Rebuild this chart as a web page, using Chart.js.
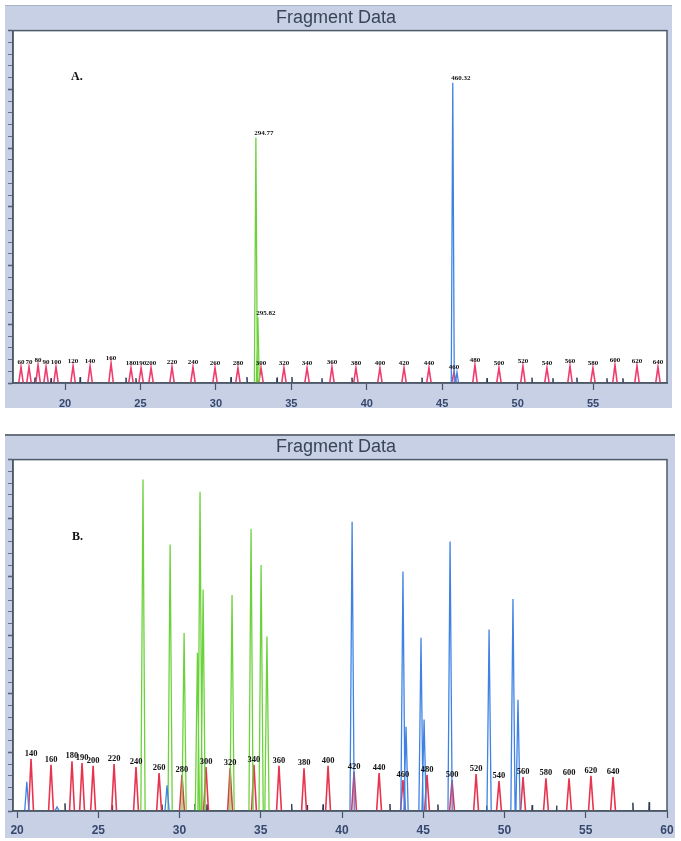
<!DOCTYPE html>
<html>
<head>
<meta charset="utf-8">
<script src="https://cdn.jsdelivr.net/npm/chart.js@4.4.0/dist/chart.umd.min.js"></script>
<style>
  body { margin: 0; background: #fff; width: 681px; height: 841px; position: relative; overflow: hidden; }
  .panel { position: absolute; left: 5px; background: #c8d0e6; }
  #panelA { top: 5px; width: 667px; height: 403px; box-shadow: inset 0 1px 0 #aab3c6; }
  #panelB { top: 434px; width: 670px; height: 404px; box-shadow: inset 0 2px 0 #6a7280; }
  .tag { position: absolute; font: bold 12px "Liberation Serif", "DejaVu Serif", serif; color: #111; }
</style>
</head>
<body>
<div class="panel" id="panelA"><canvas id="chartA"></canvas></div>
<div class="panel" id="panelB"><canvas id="chartB"></canvas></div>
<div class="tag" style="left:71px; top:69px;">A.</div>
<div class="tag" style="left:72px; top:529px;">B.</div>
<script>
// ---- Panel A ----
const xTicksA = [20, 25, 30, 35, 40, 45, 50, 55];
const sizesA = [60, 70, 80, 90, 100, 120, 140, 160, 180, 190, 200, 220, 240, 260, 280, 300, 320, 340, 360, 380, 400, 420, 440, 460, 480, 500, 520, 540, 560, 580, 600, 620, 640];
const sizeTimesA = [17.08, 17.61, 18.21, 18.74, 19.40, 20.53, 21.66, 23.05, 24.37, 25.04, 25.70, 27.09, 28.48, 29.94, 31.46, 32.99, 34.51, 36.04, 37.69, 39.28, 40.87, 42.47, 44.12, 45.78, 47.17, 48.76, 50.35, 51.94, 53.47, 54.99, 56.45, 57.91, 59.30];
const sizeHeightsA = [136, 136, 153, 136, 136, 145, 145, 170, 128, 128, 128, 136, 136, 128, 128, 128, 128, 128, 136, 128, 128, 128, 128, 94, 153, 128, 145, 128, 145, 128, 153, 145, 136];
const greenTimesA = [32.65, 32.78];
const greenHeightsA = [2090, 560];
const greenLabelsA = ['294.77', '295.82'];
const blueTimesA = [45.70, 45.98];
const blueHeightsA = [2555, 94];
const blueLabelsA = ['460.32', ''];
const noiseTimesA = [18.01, 19.07, 21.0, 24.04, 24.7, 31.0, 32.06, 34.05, 35.04, 37.03, 39.02, 43.66, 47.97, 50.95, 52.34, 53.93, 55.92, 56.98];
const noiseHeightsA = [45, 40, 50, 45, 40, 50, 50, 45, 50, 40, 45, 45, 40, 45, 40, 45, 40, 40];

// ---- Panel B ----
const xTicksB = [20, 25, 30, 35, 40, 45, 50, 55, 60];
const sizesB = [140, 160, 180, 190, 200, 220, 240, 260, 280, 300, 320, 340, 360, 380, 400, 420, 440, 460, 480, 500, 520, 540, 560, 580, 600, 620, 640];
const sizeTimesB = [20.86, 22.09, 23.38, 24.0, 24.68, 25.97, 27.32, 28.74, 30.15, 31.63, 33.11, 34.58, 36.12, 37.66, 39.14, 40.74, 42.28, 43.75, 45.23, 46.77, 48.25, 49.66, 51.14, 52.55, 53.97, 55.32, 56.68];
const sizeHeightsB = [445, 395, 425, 410, 385, 400, 375, 325, 310, 375, 365, 395, 385, 365, 385, 335, 325, 265, 310, 265, 315, 255, 290, 280, 280, 300, 290];
const greenTimesB = [27.75, 29.42, 30.28, 31.10, 31.26, 31.45, 33.23, 34.40, 35.02, 35.38];
const greenHeightsB = [2830, 2275, 1520, 1350, 2725, 1890, 1845, 2410, 2100, 1490];
const blueTimesB = [20.6, 22.46, 29.23, 40.62, 43.75, 43.94, 44.86, 45.05, 46.65, 49.05, 50.52, 50.83];
const blueHeightsB = [250, 35, 220, 2470, 2045, 720, 1480, 780, 2300, 1550, 1810, 950];
const noiseTimesB = [22.95, 25.85, 28.92, 30.95, 31.69, 36.9, 37.85, 38.83, 42.95, 45.9, 48.9, 51.7, 53.2, 57.9, 58.9];
const noiseHeightsB = [65, 50, 55, 60, 55, 60, 50, 55, 60, 55, 45, 50, 45, 70, 75];

// each peak -> narrow triangle on the baseline, peaks separated by gaps
function spikes(times, heights, half) {
  const pts = [];
  times.forEach((t, i) => {
    pts.push({x: t - half, y: 0}, {x: t, y: heights[i]}, {x: t + half, y: 0}, {x: t + half, y: null});
  });
  return pts;
}

function line(data, color, width) {
  return { data, borderColor: color, borderWidth: width, pointRadius: 0, tension: 0, fill: false, spanGaps: false };
}

const plotFrame = {
  id: 'plotFrame',
  beforeDraw(chart) {
    const a = chart.chartArea, ctx = chart.ctx;
    ctx.save();
    ctx.fillStyle = '#fff';
    ctx.fillRect(a.left, a.top, a.right - a.left, a.bottom - a.top);
    ctx.restore();
  },
  afterDraw(chart) {
    const a = chart.chartArea, ctx = chart.ctx;
    ctx.save();
    ctx.strokeStyle = '#4d5a68';
    ctx.lineWidth = 1.5;
    ctx.strokeRect(a.left, a.top, a.right - a.left, a.bottom - a.top);
    ctx.restore();
  }
};

function peakLabels(items, size) {
  return {
    id: 'peakLabels',
    afterDatasetsDraw(chart) {
      const ctx = chart.ctx, xs = chart.scales.x, ys = chart.scales.y;
      ctx.save();
      ctx.font = 'bold ' + size + 'px "Liberation Serif", "DejaVu Serif", serif';
      ctx.fillStyle = '#111';
      ctx.textAlign = 'center';
      ctx.textBaseline = 'bottom';
      items.forEach(it => {
        if (!it.text) return;
        ctx.fillText(it.text, xs.getPixelForValue(it.x) + it.dx, ys.getPixelForValue(it.y) - 1);
      });
      ctx.restore();
    }
  };
}

function makeChart(id, o) {
  return new Chart(document.getElementById(id), {
    type: 'line',
    data: { datasets: o.datasets },
    options: {
      responsive: true,
      maintainAspectRatio: false,
      animation: false,
      events: [],
      layout: { padding: { left: 0, top: 0, bottom: 0, right: o.padRight } },
      plugins: {
        legend: { display: false },
        tooltip: { enabled: false },
        title: {
          display: true, text: 'Fragment Data', color: '#384557',
          font: { family: '"Liberation Sans", Arial, sans-serif', size: 18, weight: 'normal' },
          padding: { top: 2, bottom: 2 }
        }
      },
      scales: {
        x: {
          type: 'linear', min: o.xMin, max: o.xMax,
          afterBuildTicks: s => { s.ticks = o.xTicks.map(v => ({ value: v })); },
          afterFit: s => { s.height = o.axisH; s.paddingLeft = 0; s.paddingRight = 0; },
          grid: { drawOnChartArea: false, tickLength: 7, tickColor: '#46546a', tickWidth: 1.2 },
          border: { display: true, color: '#46546a', width: 1.5 },
          ticks: {
            autoSkip: false, maxRotation: 0, padding: o.labelPad, color: '#35486c',
            font: { family: '"Liberation Sans", Arial, sans-serif', size: o.tickFont, weight: 'bold' },
            callback: v => String(v)
          }
        },
        y: {
          min: 0, max: 3000,
          afterFit: s => { s.width = 8; },
          grid: {
            drawOnChartArea: false, tickLength: 5, tickColor: '#56637a',
            tickWidth: c => (c.tick && c.tick.value % 500 === 0) ? 1.6 : 0.9
          },
          border: { display: true, color: '#46546a', width: 1.5 },
          ticks: { display: false, stepSize: 100, maxTicksLimit: 40 }
        }
      }
    },
    plugins: [plotFrame, peakLabels(o.labels, o.labelFont)]
  });
}

const labelsA = []
  .concat(sizesA.map((s, i) => ({ x: sizeTimesA[i], y: sizeHeightsA[i], text: String(s), dx: 0 })))
  .concat(greenLabelsA.map((s, i) => ({ x: greenTimesA[i], y: greenHeightsA[i], text: s, dx: 8 })))
  .concat(blueLabelsA.map((s, i) => ({ x: blueTimesA[i], y: blueHeightsA[i], text: s, dx: 8 })));

makeChart('chartA', {
  xMin: 16.55, xMax: 59.9, xTicks: xTicksA, axisH: 25, labelPad: 7, tickFont: 11, labelFont: 7, padRight: 5,
  datasets: [
    line(spikes(blueTimesA, blueHeightsA, 0.1), '#3f82e4', 1.3),
    line(spikes(greenTimesA, greenHeightsA, 0.1), '#6cd23c', 1.3),
    line(spikes(sizeTimesA, sizeHeightsA, 0.15), '#ee3d6d', 1.6),
    line(spikes(noiseTimesA, noiseHeightsA, 0.03), '#2d3a56', 1)
  ],
  labels: labelsA
});

const labelsB = sizesB.map((s, i) => ({ x: sizeTimesB[i], y: sizeHeightsB[i], text: String(s), dx: 0 }));

makeChart('chartB', {
  xMin: 19.75, xMax: 60, xTicks: xTicksB, axisH: 27, labelPad: 5, tickFont: 12, labelFont: 8.5, padRight: 8,
  datasets: [
    line(spikes(blueTimesB, blueHeightsB, 0.13), '#3f82e4', 1.3),
    line(spikes(greenTimesB, greenHeightsB, 0.13), '#6cd23c', 1.3),
    line(spikes(sizeTimesB, sizeHeightsB, 0.15), '#e8354f', 1.6),
    line(spikes(noiseTimesB, noiseHeightsB, 0.03), '#2d3a56', 1)
  ],
  labels: labelsB
});
</script>
</body>
</html>
